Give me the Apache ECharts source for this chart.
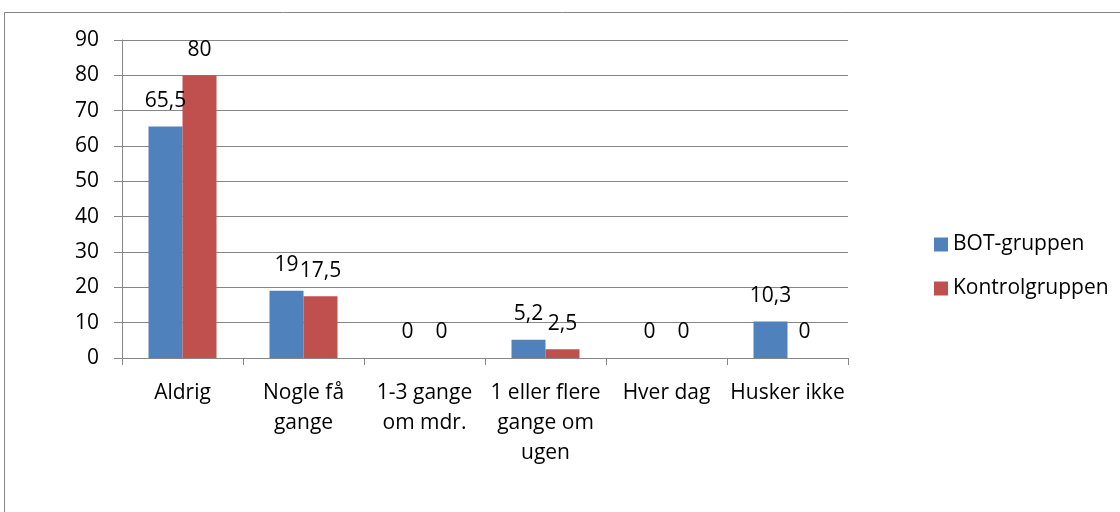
<!DOCTYPE html>
<html>
<head>
<meta charset="utf-8">
<script src="https://cdn.jsdelivr.net/npm/echarts@6/dist/echarts.min.js"></script>
<style>
  html, body { margin: 0; padding: 0; background: #fff; }
  #main { width: 1120px; height: 512px; }
</style>
</head>
<body>
<div id="main"></div>
<script>
// chart data
var categories = ['Aldrig', 'Nogle få\ngange', '1-3 gange\nom mdr.', '1 eller flere\ngange om\nugen', 'Hver dag', 'Husker ikke'];
var botValues = [65.5, 19, 0, 5.2, 0, 10.3];
var kontrolValues = [80, 17.5, 0, 2.5, 0, 0];
var seriesNames = ['BOT-gruppen', 'Kontrolgruppen'];

var font = '"Open Sans", "Liberation Sans", sans-serif';
var fs = 21;
var gridColor = '#868686';

var chart = echarts.init(document.getElementById('main'));

function commaFmt(p) {
  return String(p.value).replace('.', ',');
}

var option = {
  animation: false,
  textStyle: { fontFamily: font },
  graphic: [{
    type: 'rect',
    shape: { x: 4.5, y: 12.5, width: 1300, height: 700 },
    style: { fill: 'none', stroke: gridColor, lineWidth: 1 },
    z: -1
  }],
  grid: { left: 122, right: 272, top: 40, bottom: 154 },
  legend: {
    orient: 'vertical',
    left: 929,
    top: 229,
    itemWidth: 14,
    itemHeight: 14,
    itemGap: 23,
    icon: 'rect',
    textStyle: { fontFamily: font, fontSize: fs, color: '#000' },
    data: seriesNames
  },
  xAxis: {
    type: 'category',
    data: categories,
    axisLine: { lineStyle: { color: gridColor } },
    axisTick: { show: true, length: 7, lineStyle: { color: gridColor } },
    axisLabel: {
      fontFamily: font, fontSize: fs, color: '#000',
      margin: 20, lineHeight: 30, interval: 0
    }
  },
  yAxis: {
    type: 'value',
    min: 0, max: 90, interval: 10,
    axisLine: { show: true, lineStyle: { color: gridColor } },
    axisTick: { show: true, length: 8, lineStyle: { color: gridColor } },
    splitLine: { lineStyle: { color: gridColor } },
    axisLabel: { fontFamily: font, fontSize: fs, color: '#000', margin: 23 }
  },
  series: [{
    name: seriesNames[0],
    type: 'bar',
    data: botValues,
    barWidth: 34,
    barGap: '0%',
    itemStyle: { color: '#4f81bd' },
    label: { show: true, position: 'top', distance: 15, fontSize: fs, color: '#000', fontFamily: font, formatter: commaFmt }
  }, {
    name: seriesNames[1],
    type: 'bar',
    data: kontrolValues,
    barWidth: 34,
    barGap: '0%',
    itemStyle: { color: '#c0504d' },
    label: { show: true, position: 'top', distance: 15, fontSize: fs, color: '#000', fontFamily: font, formatter: commaFmt }
  }]
};

chart.setOption(option);
</script>
</body>
</html>
